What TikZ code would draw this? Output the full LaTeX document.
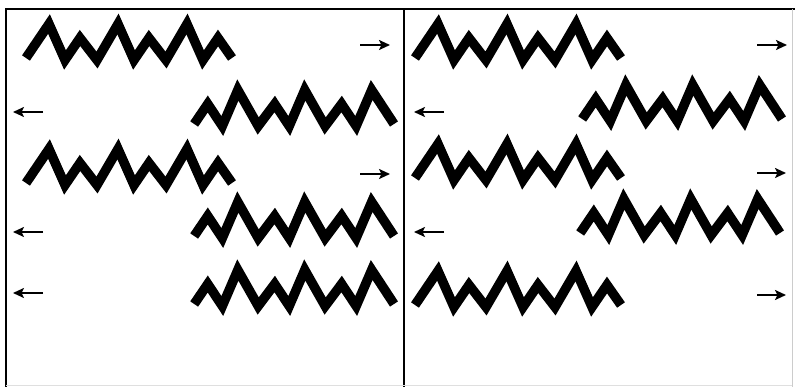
\documentclass[tikz,border=0pt]{standalone}
\usetikzlibrary{arrows.meta}
\tikzset{zigline/.style={line width=9.5pt,line join=miter,miter limit=10}}
\tikzset{movearrow/.style={line width=2.2pt,
    -{Stealth[length=11pt,width=10pt,inset=2.5pt]}}}
\tikzset{framerule/.style={line width=1.6pt}}
\tikzset{spring/.pic={
    \draw[zigline] (0,0)--(23,\hi)--(39,\va)--(54,\lo)--(71,\va)
        --(92,\hi)--(108,\va)--(123,\lo)--(140,\va)
        --(161,\hi)--(177,\va)--(192,\lo)--(206,0);
}}
\begin{document}
\begin{tikzpicture}[x=1pt,y=-1pt]

\useasboundingbox (0,0) rectangle (795,387);

%   ばねの高さ
\pgfmathsetmacro{\hi}{-34}
\pgfmathsetmacro{\lo}{-20}
\pgfmathsetmacro{\va}{2}

%   枠
\draw[framerule] (6,387) -- (6,9) -- (795,9);
\draw[framerule] (404,9) -- (404,387);
\draw[gray!40,thin] (792,9) -- (792,387);
\draw[gray!25,thin] (6,385) -- (792,385);

%   左の図
\pic at (26,58) {spring};
\pic[xscale=-0.97] at (394,124) {spring};
\pic at (26,183) {spring};
\pic[xscale=-0.97] at (394,236) {spring};
\pic[xscale=-0.97] at (394,304) {spring};

\draw[movearrow] (360,45) -- (390,45);
\draw[movearrow] (43,112) -- (13,112);
\draw[movearrow] (360,174) -- (390,174);
\draw[movearrow] (43,232) -- (13,232);
\draw[movearrow] (43,293) -- (13,293);

%   右の図
\pic at (415,58) {spring};
\pic[xscale=-0.97] at (782,119) {spring};
\pic at (415,178) {spring};
\pic[xscale=-0.97] at (780,233) {spring};
\pic at (415,305) {spring};

\draw[movearrow] (757,45) -- (787,45);
\draw[movearrow] (444,112) -- (414,112);
\draw[movearrow] (757,173) -- (786,173);
\draw[movearrow] (444,232) -- (414,232);
\draw[movearrow] (757,295) -- (786,295);

\end{tikzpicture}
\end{document}
